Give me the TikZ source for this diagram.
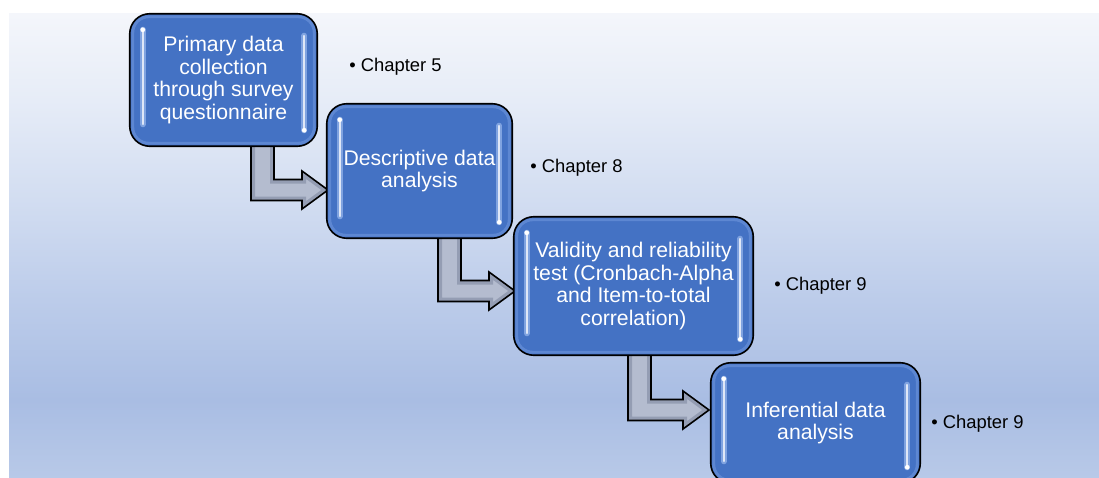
\documentclass[tikz,border=0pt]{standalone}
\usepackage{fontspec}
\setmainfont{Liberation Sans}
\usetikzlibrary{calc}

\definecolor{bgA}{HTML}{B8C9E8}
\definecolor{bgB}{HTML}{A9BDE3}
\definecolor{bgC}{HTML}{BCCCEA}
\definecolor{bgD}{HTML}{D2DDF1}
\definecolor{bgE}{HTML}{E6ECF7}
\definecolor{bgF}{HTML}{F4F6FB}
\definecolor{boxblue}{HTML}{4472C4}
\definecolor{boxrim}{HTML}{6990D8}
\definecolor{glowblue}{HTML}{A9C4F4}
\definecolor{arrowgray}{HTML}{B4BCCF}
\definecolor{arrowdark}{HTML}{8D96AC}

% soft vertical fade for the backdrop (bottom -> top)
\pgfdeclareverticalshading{bgfade}{100bp}{%
  color(0bp)=(bgA); color(25bp)=(bgA); color(33.4bp)=(bgB);
  color(44.2bp)=(bgC); color(55bp)=(bgD); color(65.7bp)=(bgE);
  color(75bp)=(bgF); color(100bp)=(bgF)}

\newcommand\stepboxfont{\fontsize{15.9pt}{16.9pt}\selectfont}
\newcommand\chapfont{\fontsize{13.8pt}{16pt}\selectfont}

% outline of an L-shaped block arrow: stem left x, stem top y, tip x, tip y
\newcommand\bentpath[4]{(#1,#2) -- (#1,#4+10.5) -- (#3-26,#4+10.5)
    -- (#3-26,#4+19) -- (#3,#4) -- (#3-26,#4-19) -- (#3-26,#4-10.5)
    -- (#1+23,#4-10.5) -- (#1+23,#2) -- cycle}
\newcommand\bentarrow[4]{%
  \fill[arrowgray] \bentpath{#1}{#2}{#3}{#4};
  \begin{scope}
    \clip \bentpath{#1}{#2}{#3}{#4};
    \draw[draw=arrowdark, line width=6pt, line join=miter, opacity=0.8]
      \bentpath{#1}{#2}{#3}{#4};
  \end{scope}
  \draw[blockarrow] \bentpath{#1}{#2}{#3}{#4};}

% glossy rim and the two vertical glints of a box
\newcommand\gloss[1]{%
  \draw[rim] ($(#1.north west)+(3,3)$) rectangle ($(#1.south east)+(-3,-3)$);
  \draw[glow] ($(#1.north west)+(13,16)$) -- ($(#1.south west)+(13,-22)$);
  \draw[glint] ($(#1.north west)+(13,16)$) -- ($(#1.south west)+(13,-22)$);
  \fill[white] ($(#1.north west)+(13,16)$) circle (1.8pt);
  \draw[glow] ($(#1.north east)+(-13,22)$) -- ($(#1.south east)+(-13,-16)$);
  \draw[glint] ($(#1.north east)+(-13,22)$) -- ($(#1.south east)+(-13,-16)$);
  \fill[white] ($(#1.south east)+(-13,-16)$) circle (1.8pt);
  \draw[outline] (#1.north west) rectangle (#1.south east);}

\begin{document}
\begin{tikzpicture}[x=0.75pt,y=-0.75pt,
  stepbox/.style={fill=boxblue, rounded corners=15pt, text=white,
    align=center, font=\stepboxfont, inner sep=0pt},
  outline/.style={draw=black, line width=1.2pt, rounded corners=15pt},
  rim/.style={draw=boxrim, line width=2.2pt, rounded corners=12pt, opacity=0.7},
  glow/.style={draw=glowblue, line width=4.5pt, line cap=round, opacity=0.6},
  glint/.style={draw=white, line width=1.3pt, line cap=round, opacity=0.75},
  blockarrow/.style={draw=black, line width=1.2pt, line join=miter},
  chap/.style={font=\chapfont, text=black, inner sep=0pt, anchor=base west}]

\useasboundingbox (0,0) rectangle (1099,478);

\begin{scope}
  \clip (0,0) rectangle (1099,478);
  \shade[shading=bgfade] (9,14) rectangle (1099,478);

  % connecting block arrows
  \bentarrow{251}{140}{328}{190}
  \bentarrow{438}{233}{515}{291}
  \bentarrow{628}{350}{709}{410}

  % process steps
  \node[stepbox, minimum width=140.25pt, minimum height=99pt] (b1) at (223.5,80)
    {Primary data\\collection\\through survey\\questionnaire};
  \gloss{b1}
  \node[stepbox, minimum width=138.75pt, minimum height=100.5pt] (b2) at (419.5,171)
    {Descriptive data\\analysis};
  \gloss{b2}
  \node[stepbox, minimum width=179.25pt, minimum height=103.5pt] (b3) at (633.5,286)
    {Validity and reliability\\test (Cronbach-Alpha\\and Item-to-total\\correlation)};
  \gloss{b3}
  \node[stepbox, minimum width=156.75pt, minimum height=90pt] (b4) at (815.5,423)
    {Inferential data\\analysis};
  \gloss{b4}
\end{scope}

% chapter references
\node[chap] (c1) at (349,72) {• Chapter 5};
\node[chap] (c2) at (530,172) {• Chapter 8};
\node[chap] (c3) at (774,290) {• Chapter 9};
\node[chap] (c4) at (931,428) {• Chapter 9};
\end{tikzpicture}
\end{document}
